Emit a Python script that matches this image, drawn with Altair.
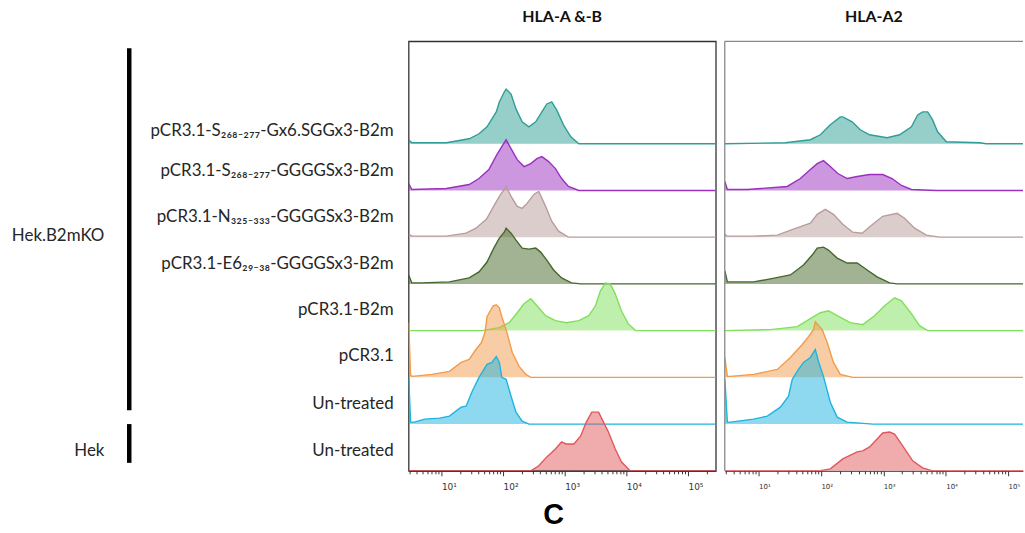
import altair as alt
import pandas as pd

# ---------------- labels / styling lists ----------------
ROW_KEYS = ["s268_gx6", "s268_gggs", "n325", "e6", "b2m", "pcr", "ko_untreated", "hek_untreated"]
ROW_LABELS = [
    "pCR3.1-S₂₆₈₋₂₇₇-Gx6.SGGx3-B2m",
    "pCR3.1-S₂₆₈₋₂₇₇-GGGGSx3-B2m",
    "pCR3.1-N₃₂₅₋₃₃₃-GGGGSx3-B2m",
    "pCR3.1-E6₂₉₋₃₈-GGGGSx3-B2m",
    "pCR3.1-B2m",
    "pCR3.1",
    "Un-treated",
    "Un-treated",
]
LINE_COLORS = ["#2e9e96", "#9b2fc0", "#b99c9c", "#45682a", "#7fe05a", "#f29b4b", "#1db4e0", "#e2575c"]
ROW_LABEL_LIFT = [13, 20, 20, 20, 21, 21, 20, 20]
ROW_STEP = 47

GROUP_LABELS = ["Hek.B2mKO", "Hek"]
GROUP_FROM = [61, 8]
GROUP_TO = [425, 47]
GROUP_LABEL_Y = [236, 20]

PANEL_TITLES = ["HLA-A &-B", "HLA-A2"]
MAJOR_TICKS = [10, 100, 1000, 10000, 100000]

# ---------------- HLA-A & -B histograms (log10 intensity, event count) ----------------
AB_S268_GX6_LOG = [0.47, 0.52, 1.08, 1.45, 1.61, 1.74, 1.89, 1.94, 2.02, 2.05, 2.13, 2.21, 2.31, 2.42, 2.53, 2.63, 2.71, 2.79, 2.87, 2.98, 3.10, 3.23, 5.45]
AB_S268_GX6_CNT = [4, 1, 1, 5, 10, 17, 32, 42, 52, 55, 50, 35, 22, 17, 22, 32, 40, 42, 34, 19, 7, 0, 0]
AB_S268_GGGS_LOG = [0.47, 0.52, 1.08, 1.45, 1.61, 1.77, 1.90, 1.98, 2.05, 2.13, 2.23, 2.34, 2.45, 2.55, 2.63, 2.74, 2.85, 2.95, 3.06, 3.23, 5.45]
AB_S268_GGGS_CNT = [7, 1, 2, 6, 12, 21, 36, 44, 51, 42, 31, 24, 27, 32, 34, 29, 22, 12, 4, 0, 0]
AB_N325_LOG = [0.47, 0.52, 1.08, 1.40, 1.56, 1.73, 1.82, 1.94, 2.05, 2.13, 2.23, 2.31, 2.39, 2.50, 2.58, 2.69, 2.79, 2.90, 3.06, 5.45]
AB_N325_CNT = [3, 1, 1, 4, 9, 18, 28, 41, 51, 41, 31, 29, 34, 43, 46, 31, 16, 6, 0, 0]
AB_E6_LOG = [0.47, 0.52, 0.69, 1.13, 1.45, 1.61, 1.74, 1.85, 1.94, 2.02, 2.05, 2.13, 2.21, 2.31, 2.42, 2.53, 2.61, 2.71, 2.82, 2.95, 3.11, 3.26, 5.45]
AB_E6_CNT = [9, 1, 1, 2, 6, 12, 22, 36, 46, 52, 56, 51, 44, 36, 35, 36, 32, 24, 14, 6, 1, 0, 0]
AB_B2M_LOG = [0.47, 1.66, 1.94, 2.10, 2.23, 2.34, 2.45, 2.55, 2.69, 2.85, 3.03, 3.23, 3.39, 3.50, 3.58, 3.66, 3.74, 3.82, 3.92, 4.03, 4.15, 5.45]
AB_B2M_CNT = [0, 0, 3, 8, 18, 27, 32, 25, 15, 10, 8, 10, 15, 25, 40, 48, 47, 37, 20, 7, 0, 0]
AB_PCR_LOG = [0.47, 0.50, 0.53, 0.85, 1.13, 1.32, 1.45, 1.56, 1.65, 1.71, 1.74, 1.84, 1.89, 1.94, 1.98, 2.05, 2.15, 2.26, 2.37, 2.45, 5.45]
AB_PCR_CNT = [55, 2, 1, 3, 6, 15, 18, 28, 35, 46, 61, 72, 73, 70, 61, 48, 25, 11, 3, 0, 0]
AB_KO_UNT_LOG = [0.47, 0.50, 0.56, 0.73, 0.97, 1.13, 1.32, 1.40, 1.50, 1.61, 1.69, 1.74, 1.82, 1.89, 1.94, 1.98, 2.05, 2.13, 2.21, 2.31, 2.42, 5.45]
AB_KO_UNT_CNT = [47, 2, 2, 5, 6, 8, 17, 18, 33, 47, 55, 60, 62, 68, 62, 47, 45, 28, 12, 3, 0, 0]
AB_HEK_UNT_LOG = [0.47, 2.45, 2.58, 2.71, 2.85, 2.95, 3.02, 3.15, 3.26, 3.35, 3.44, 3.55, 3.63, 3.71, 3.82, 3.92, 4.06, 5.45]
AB_HEK_UNT_CNT = [0, 0, 5, 14, 22, 29, 27, 27, 35, 49, 59, 59, 49, 39, 22, 9, 0, 0]

# ---------------- HLA-A2 histograms ----------------
A2_S268_GX6_LOG = [0.46, 1.43, 1.83, 1.99, 2.15, 2.31, 2.35, 2.50, 2.63, 2.78, 3.06, 3.26, 3.45, 3.55, 3.63, 3.71, 3.79, 3.87, 4.01, 4.54, 4.65, 5.26]
A2_S268_GX6_CNT = [0, 1, 4, 9, 19, 27, 27, 22, 14, 9, 6, 9, 17, 29, 32, 32, 24, 12, 2, 1, 0, 0]
A2_S268_GGGS_LOG = [0.46, 0.50, 0.82, 1.46, 1.67, 1.83, 1.94, 2.04, 2.15, 2.27, 2.42, 2.58, 2.78, 2.99, 3.14, 3.29, 3.45, 3.85, 5.26]
A2_S268_GGGS_CNT = [9, 1, 1, 4, 12, 21, 27, 30, 24, 17, 12, 14, 16, 16, 12, 5, 1, 0, 0]
A2_N325_LOG = [0.46, 0.50, 0.92, 1.30, 1.56, 1.83, 1.94, 2.07, 2.20, 2.35, 2.51, 2.66, 2.83, 2.99, 3.22, 3.34, 3.50, 3.69, 3.90, 5.26]
A2_N325_CNT = [3, 1, 1, 2, 8, 14, 23, 28, 23, 13, 5, 4, 13, 21, 24, 19, 9, 2, 0, 0]
A2_E6_LOG = [0.46, 0.50, 0.92, 1.19, 1.51, 1.72, 1.86, 1.94, 2.04, 2.12, 2.26, 2.42, 2.58, 2.74, 2.90, 3.10, 3.22, 5.26]
A2_E6_CNT = [13, 2, 2, 5, 9, 19, 29, 36, 37, 34, 26, 21, 21, 14, 7, 1, 0, 0]
A2_B2M_LOG = [0.46, 1.19, 1.62, 1.83, 1.99, 2.12, 2.26, 2.47, 2.67, 2.86, 3.02, 3.18, 3.29, 3.45, 3.58, 3.71, 5.26]
A2_B2M_CNT = [0, 1, 4, 12, 18, 20, 15, 8, 6, 15, 25, 33, 30, 17, 5, 0, 0]
A2_PCR_LOG = [0.46, 0.50, 0.55, 0.92, 1.30, 1.51, 1.70, 1.80, 1.88, 1.91, 2.02, 2.10, 2.20, 2.31, 2.51, 5.26]
A2_PCR_CNT = [20, 1, 1, 3, 8, 20, 33, 41, 48, 56, 48, 35, 15, 3, 0, 0]
A2_KO_UNT_LOG = [0.46, 0.50, 0.55, 0.92, 1.14, 1.35, 1.48, 1.54, 1.64, 1.72, 1.83, 1.91, 1.96, 2.04, 2.15, 2.26, 2.42, 2.83, 5.26]
A2_KO_UNT_CNT = [45, 2, 2, 5, 8, 17, 28, 45, 55, 62, 67, 75, 63, 48, 22, 7, 2, 0, 0]
A2_HEK_UNT_LOG = [0.46, 1.99, 2.15, 2.35, 2.58, 2.67, 2.78, 2.90, 2.99, 3.10, 3.18, 3.31, 3.47, 3.63, 3.79, 5.26]
A2_HEK_UNT_CNT = [0, 0, 2, 12, 19, 20, 24, 32, 38, 39, 37, 25, 10, 3, 0, 0]

AB = {
    "s268_gx6": (AB_S268_GX6_LOG, AB_S268_GX6_CNT),
    "s268_gggs": (AB_S268_GGGS_LOG, AB_S268_GGGS_CNT),
    "n325": (AB_N325_LOG, AB_N325_CNT),
    "e6": (AB_E6_LOG, AB_E6_CNT),
    "b2m": (AB_B2M_LOG, AB_B2M_CNT),
    "pcr": (AB_PCR_LOG, AB_PCR_CNT),
    "ko_untreated": (AB_KO_UNT_LOG, AB_KO_UNT_CNT),
    "hek_untreated": (AB_HEK_UNT_LOG, AB_HEK_UNT_CNT),
}
A2 = {
    "s268_gx6": (A2_S268_GX6_LOG, A2_S268_GX6_CNT),
    "s268_gggs": (A2_S268_GGGS_LOG, A2_S268_GGGS_CNT),
    "n325": (A2_N325_LOG, A2_N325_CNT),
    "e6": (A2_E6_LOG, A2_E6_CNT),
    "b2m": (A2_B2M_LOG, A2_B2M_CNT),
    "pcr": (A2_PCR_LOG, A2_PCR_CNT),
    "ko_untreated": (A2_KO_UNT_LOG, A2_KO_UNT_CNT),
    "hek_untreated": (A2_HEK_UNT_LOG, A2_HEK_UNT_CNT),
}

N = len(ROW_KEYS)
H = 432


def offset_of(i):
    return (N - 1 - i) * ROW_STEP


def curves_df(curves):
    rows = []
    for i, key in enumerate(ROW_KEYS):
        logs, cnts = curves[key]
        off = offset_of(i)
        for lg, c in zip(logs, cnts):
            rows.append({"key": key, "x": 10 ** lg, "y": off + c, "y0": off})
    return pd.DataFrame(rows)


minor = [k * 10 ** n for n in range(0, 6) for k in range(2, 10)]
SUP = {10: "10¹", 100: "10²", 1000: "10³", 10000: "10⁴", 100000: "10⁵"}
label_expr = " : ".join(f"datum.value == {v} ? '{s}'" for v, s in SUP.items()) + " : ''"
major_test = " || ".join(f"datum.value == {v}" for v in MAJOR_TICKS)

Y_SCALE = alt.Scale(domain=[0, H], nice=False, zero=False)


def make_panel(curves, lo, hi, label_size, tick_values):
    df = curves_df(curves)
    xs = alt.Scale(type="log", domain=[10 ** lo, 10 ** hi], nice=False)
    axis = alt.Axis(
        values=tick_values,
        labelExpr=label_expr,
        tickSize={"condition": {"test": major_test, "value": 5}, "value": 3},
        grid=False,
        title=None,
        domainColor="#333333",
        tickColor="#333333",
        labelColor="#333333",
        labelFont="DejaVu Sans",
        labelFontSize=label_size,
        labelAlign="left",
        labelPadding=7,
        labelOverlap=False,
        labelFlush=False,
    )
    X = alt.X("x:Q", scale=xs, axis=axis)
    Y = alt.Y("y:Q", scale=Y_SCALE, axis=None)
    base = alt.Chart(df)
    layers = []
    for i, key in enumerate(ROW_KEYS):
        sub = base.transform_filter(alt.datum.key == key)
        layers.append(
            sub.mark_area(color=LINE_COLORS[i], fillOpacity=0.5, interpolate="linear", clip=True).encode(
                x=X, y=Y, y2="y0:Q"
            )
        )
        layers.append(
            sub.mark_line(color=LINE_COLORS[i], strokeWidth=1.4, interpolate="linear", clip=True).encode(
                x=X, y=Y
            )
        )
    return layers


W_AB = 309
W_A2 = 300
lo_ab = 0.468
hi_ab = lo_ab + W_AB / 62.0
lo_a2 = 0.458
hi_a2 = lo_a2 + W_A2 / 62.75
ticks_ab = [v for v in MAJOR_TICKS + minor if 10 ** lo_ab <= v <= 10 ** hi_ab]
ticks_a2 = [v for v in MAJOR_TICKS + minor if 10 ** lo_a2 <= v <= 10 ** hi_a2]

TEXT_FONT = "Lato"
TEXT_SIZE = 17

left_layers = make_panel(AB, lo_ab, hi_ab, 9, ticks_ab)

labels_df = pd.DataFrame(
    {"label": ROW_LABELS, "y": [offset_of(i) + ROW_LABEL_LIFT[i] for i in range(N)]}
)
row_text = alt.Chart(labels_df).mark_text(
    align="right", baseline="middle", font=TEXT_FONT, fontSize=TEXT_SIZE, color="#262626"
).encode(x=alt.value(-15), y=alt.Y("y:Q", scale=Y_SCALE, axis=None), text="label:N")

groups_df = pd.DataFrame(
    {"group": GROUP_LABELS, "y_from": GROUP_FROM, "y_to": GROUP_TO, "ly": GROUP_LABEL_Y}
)
group_bars = alt.Chart(groups_df).mark_rule(color="black", strokeWidth=4.5).encode(
    x=alt.value(-281), y=alt.Y("y_from:Q", scale=Y_SCALE, axis=None), y2="y_to:Q"
)
group_text = alt.Chart(groups_df).mark_text(
    align="right", baseline="middle", font=TEXT_FONT, fontSize=TEXT_SIZE, color="#262626"
).encode(x=alt.value(-306), y=alt.Y("ly:Q", scale=Y_SCALE, axis=None), text="group:N")

c_text = alt.Chart(pd.DataFrame({"t": ["C"]})).mark_text(
    font="Liberation Sans", fontSize=29, fontWeight="bold", color="black", baseline="middle"
).encode(x=alt.value(146), y=alt.value(477), text="t:N")

TITLE_STYLE = dict(font="Lato", fontSize=16, fontWeight="bold", color="#111111", offset=16)

left = alt.layer(*left_layers, row_text, group_bars, group_text, c_text).properties(
    width=W_AB,
    height=H,
    title=alt.TitleParams(PANEL_TITLES[0], **TITLE_STYLE),
    view=alt.ViewBackground(stroke="#333333", strokeWidth=1.3),
)

right_layers = make_panel(A2, lo_a2, hi_a2, 7, ticks_a2)
border_df = pd.DataFrame({"b": [1]})
left_border = alt.Chart(border_df).mark_rule(color="#888888", strokeWidth=1.3).encode(
    x=alt.value(0), y=alt.value(0), y2=alt.value(H)
)
top_border = alt.Chart(border_df).mark_rule(color="#888888", strokeWidth=1.3).encode(
    x=alt.value(0), x2=alt.value(W_A2), y=alt.value(0)
)
right = alt.layer(*right_layers, left_border, top_border).properties(
    width=W_A2,
    height=H,
    title=alt.TitleParams(PANEL_TITLES[1], **TITLE_STYLE),
    view=alt.ViewBackground(stroke="transparent"),
)

chart = alt.hconcat(left, right, spacing=6).properties(
    padding={"left": 11, "top": 6, "right": 0, "bottom": 0}
).configure_view(stroke="#333333")

chart.save("out.html", embed_options={"renderer": "svg", "actions": False})
